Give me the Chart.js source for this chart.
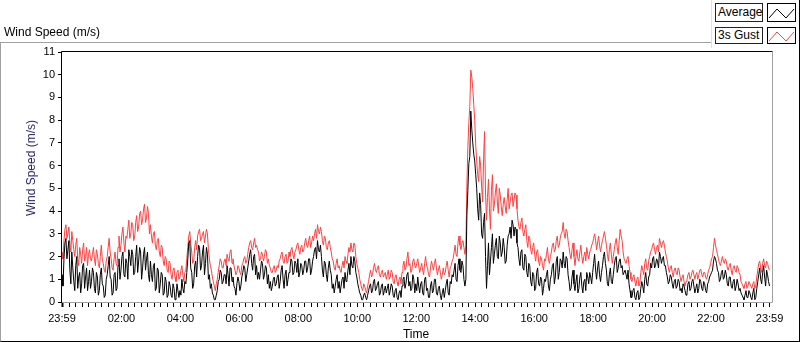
<!DOCTYPE html>
<html>
<head>
<meta charset="utf-8">
<script src="https://cdn.jsdelivr.net/npm/chart.js@4.4.1/dist/chart.umd.min.js"></script>
<style>
  body { margin: 0; background: #fff; font-family: "Liberation Sans", Arial, sans-serif; }
  #wrap { position: relative; width: 800px; height: 342px; overflow: hidden; }
  #frame { position: absolute; left: 0; top: 42px; width: 800px; height: 300px; box-sizing: border-box;
           border-top: 1px solid #a0a0a0; border-left: 1px solid #a0a0a0;
           border-right: 1px solid #000; border-bottom: 1px solid #000; }
  canvas { position: absolute; left: 0; top: 0; }
  .txt { position: absolute; font-size: 12px; white-space: nowrap; color: #000; }
  #legend { position: absolute; left: 711px; top: 0; width: 89px; height: 48px; box-sizing: border-box;
            background: #fff; border-left: 1px solid #e0e0e0; border-right: 1px solid #000; }
  .lbox { position: absolute; box-sizing: border-box; border: 1px solid #222; background: #fff;
          font-size: 12px; padding-left: 2px; }
  .ibox { position: absolute; box-sizing: border-box; border: 1px solid #000; background: #fff; }
</style>
</head>
<body>
<div id="wrap">
  <div id="frame"></div>
  <canvas id="wind" width="800" height="342"></canvas>
  <div class="txt" style="left:4px;top:32px;transform:translateY(-50%)">Wind Speed (m/s)</div>
  <div class="txt" style="left:31px;top:168px;transform:translate(-50%,-50%) rotate(-90deg);color:#26266e">Wind Speed (m/s)</div>
  <div class="txt" style="left:416px;top:334px;transform:translate(-50%,-50%)">Time</div>
  <div id="legend">
    <div class="lbox" style="left:3px;top:3px;width:48px;height:19px;line-height:17px">Average</div>
    <div class="ibox" style="left:55px;top:3px;width:29px;height:19px">
      <svg width="27" height="17"><polyline points="1,14 9,5 18,14 26,5" fill="none" stroke="#000" stroke-width="1"/></svg>
    </div>
    <div class="lbox" style="left:3px;top:27px;width:48px;height:17px;line-height:15px">3s Gust</div>
    <div class="ibox" style="left:55px;top:27px;width:29px;height:17px">
      <svg width="27" height="15"><polyline points="1,13 9,4 18,13 26,4" fill="none" stroke="#ff4040" stroke-width="1"/></svg>
    </div>
  </div>
</div>
<script>
// one sample every 2 minutes, starting 23:59 (minute 0) up to 23:59 next day (minute 1440)
var stepMin = 2;

// Average wind speed (m/s) - one row per hour
var average = [
  1.2,0.7, 1.9,2.6, 2.8,1.9, 2.3,2.7, 1.4,0.8, 2.2,1.5, 0.9,0.5, 1.6,2.0, 0.6,1.1, 1.3,0.4, 0.8,1.6, 1.7,0.6, 1.1,1.5, 0.5,0.9, 1.4,0.6,
  0.9,1.5, 1.3,0.6, 0.4,1.3, 1.1,0.3, 0.5,1.2, 1.5,0.8, 0.7,0.2, 0.3,1.0, 1.2,1.6, 2.0,1.1, 1.0,0.3, 0.4,1.2, 1.3,0.5, 0.6,1.6, 1.9,1.0,
  1.4,2.0, 2.2,1.2, 1.1,1.9, 1.7,1.0, 2.3,2.0, 1.6,2.3, 2.1,1.2, 1.3,2.0, 2.5,1.3, 1.8,2.4, 2.2,1.0, 1.5,2.1, 2.4,1.4, 1.9,2.2, 1.2,0.9,
  1.8,1.2, 0.9,1.6, 1.7,0.5, 0.6,1.5, 1.4,0.4, 0.8,1.3, 1.2,0.3, 0.4,1.1, 0.9,0.2, 0.3,0.9, 0.7,0.3, 0.2,0.8, 0.6,0.1, 0.2,0.8, 0.5,0.2,
  0.5,0.3, 1.0,0.6, 0.4,0.9, 0.8,1.3, 1.9,2.6, 2.7,1.5, 1.3,0.6, 0.8,1.6, 1.8,1.1, 2.0,2.5, 2.4,1.4, 1.6,2.2, 2.5,1.2, 1.7,2.4, 2.1,1.0,
  1.2,0.6, 0.8,0.4, 0.3,0.1, 0.1,0.3, 0.5,0.9, 1.0,1.4, 1.3,0.8, 0.9,1.2, 1.2,0.8, 1.6,1.2, 0.7,1.5, 1.5,0.9, 1.1,0.7, 0.6,0.3, 0.8,1.1,
  0.9,0.5, 0.7,1.1, 1.3,1.6, 1.5,0.9, 1.2,1.5, 1.8,2.1, 2.3,1.7, 1.4,2.0, 2.1,1.2, 1.6,1.0, 1.3,1.0, 1.4,1.8, 1.7,1.0, 1.2,1.6, 1.5,0.8,
  1.2,0.6, 0.9,0.5, 0.7,1.0, 1.1,0.7, 0.8,1.1, 1.2,0.6, 0.9,1.4, 1.6,1.0, 0.6,1.2, 1.4,0.7, 1.0,1.3, 1.5,1.9, 1.8,1.2, 1.3,1.8, 1.7,1.3,
  1.9,1.1, 1.3,1.7, 1.6,1.2, 1.4,1.8, 1.8,1.3, 1.5,1.9, 1.9,1.2, 1.4,1.8, 2.0,2.3, 2.4,1.9, 2.7,2.3, 2.2,2.5, 2.0,1.4, 1.1,1.8, 1.7,1.2,
  0.9,1.5, 1.8,1.4, 1.2,0.6, 0.8,0.4, 0.7,1.0, 1.2,0.6, 0.9,0.4, 0.7,1.0, 1.1,0.6, 1.3,0.9, 1.0,1.4, 1.7,1.2, 2.0,1.6, 1.5,2.0, 1.8,1.3,
  1.1,0.8, 0.6,0.4, 0.3,0.1, 0.1,0.3, 0.4,0.2, 0.1,0.3, 0.5,0.7, 0.8,0.4, 0.5,0.9, 1.0,0.5, 0.6,0.8, 0.9,0.3, 0.4,0.7, 0.8,0.3, 0.5,0.7,
  0.4,0.6, 0.8,0.3, 0.5,0.8, 0.7,0.3, 0.2,0.5, 0.6,0.2, 0.1,0.4, 0.5,0.2, 0.7,1.0, 1.1,0.6, 0.8,1.2, 1.3,0.7, 0.9,0.5, 0.6,1.2, 1.0,0.4,
  0.8,0.5, 1.1,0.7, 0.4,0.8, 0.9,0.4, 0.3,1.0, 1.1,0.5, 0.6,0.2, 0.2,0.7, 0.9,0.4, 0.5,1.0, 1.0,0.4, 0.3,0.6, 0.7,0.3, 0.1,0.4, 0.6,0.2,
  0.5,0.8, 1.0,0.4, 0.3,0.9, 0.8,1.2, 1.1,1.4, 1.7,1.0, 0.9,1.6, 1.9,1.4, 1.3,1.8, 1.6,1.0, 0.7,1.0, 3.8,4.9, 6.1,6.4, 8.4,7.6, 7.0,6.5,
  6.2,5.6, 5.0,4.1, 3.6,4.8, 4.3,3.0, 2.8,3.5, 3.9,2.0, 0.6,1.6, 2.6,1.2, 1.8,2.4, 3.0,1.7, 2.1,2.5, 2.8,2.0, 1.9,2.9, 2.6,2.0, 2.2,2.8,
  2.4,1.7, 1.8,2.5, 2.9,3.0, 3.3,2.8, 3.6,3.4, 2.9,3.3, 3.2,2.6, 2.4,1.9, 1.6,2.2, 2.3,1.5, 1.4,2.1, 2.0,1.3, 1.1,1.7, 1.6,0.9, 0.7,1.3,
  1.2,0.5, 0.6,1.3, 1.5,0.8, 0.7,1.1, 1.0,0.3, 0.6,1.0, 0.9,1.2, 1.4,0.7, 0.5,1.0, 1.2,1.6, 1.7,0.8, 1.1,1.8, 2.0,1.0, 1.3,1.9, 1.8,1.5,
  2.2,1.7, 1.5,2.0, 1.9,1.2, 0.9,0.5, 0.6,1.1, 1.4,0.8, 0.5,0.9, 1.2,0.4, 0.6,1.1, 1.3,0.7, 0.4,0.9, 1.0,0.5, 1.3,1.1, 0.8,1.3, 1.1,0.8,
  1.3,1.7, 2.1,1.4, 1.0,1.5, 1.8,1.2, 0.9,1.3, 1.6,2.0, 2.2,1.7, 1.4,0.8, 0.7,1.2, 1.5,0.9, 0.8,1.2, 1.6,1.9, 2.0,1.3, 1.5,1.8, 1.9,1.5,
  1.6,1.2, 1.3,1.4, 1.2,1.0, 1.4,0.8, 0.5,0.2, 0.2,0.5, 0.6,0.2, 0.1,0.4, 0.5,0.1, 0.2,0.6, 0.9,0.7, 0.4,1.0, 1.3,0.8, 0.7,1.1, 1.2,1.7,
  1.5,1.9, 2.0,1.5, 1.6,1.9, 1.8,1.5, 2.2,2.0, 1.7,1.9, 2.0,1.6, 1.6,1.3, 1.1,0.8, 0.9,1.2, 1.1,0.8, 0.6,0.9, 1.0,0.6, 0.7,1.0, 0.9,0.5,
  0.6,0.4, 0.8,0.7, 0.5,0.3, 0.4,0.8, 0.9,0.5, 0.6,0.9, 1.0,0.7, 0.4,0.6, 0.8,0.4, 0.6,1.0, 0.9,0.6, 0.5,0.9, 0.8,0.5, 0.4,0.8, 0.9,1.1,
  1.2,1.3, 1.4,1.8, 2.0,1.9, 1.7,1.4, 1.3,0.9, 1.0,1.3, 1.4,1.0, 1.1,1.4, 1.2,0.8, 0.7,1.1, 1.1,0.7, 0.6,0.9, 1.0,0.5, 0.7,1.0, 0.8,0.5,
  0.6,0.4, 0.3,0.2, 0.1,0.3, 0.5,0.2, 0.2,0.5, 0.4,0.2, 0.1,0.4, 0.6,0.1, 0.2,0.6, 0.9,1.2, 1.5,1.0, 0.8,1.3, 1.6,1.1, 0.7,1.4, 1.2,0.9,
  0.7
];

// 3 second gust (m/s)
var gust = [
  2.2,1.9, 2.7,3.2, 3.4,2.8, 3.0,3.3, 2.6,2.2, 3.1,2.7, 2.3,2.0, 2.5,2.8, 1.9,1.6, 2.4,2.1, 1.7,2.3, 2.6,1.8, 2.0,2.4, 1.6,2.1, 2.3,1.9,
  1.8,2.1, 2.4,1.9, 1.6,2.3, 2.1,1.7, 1.5,2.0, 2.5,1.9, 1.7,1.4, 1.3,1.8, 2.0,2.4, 2.8,2.2, 1.9,1.5, 1.4,1.9, 2.2,1.7, 1.6,2.4, 2.9,2.2,
  2.5,3.0, 3.3,2.6, 2.2,2.9, 2.8,3.2, 3.6,2.8, 3.0,3.5, 3.4,2.7, 2.9,3.5, 3.8,3.1, 3.3,3.9, 4.0,3.4, 3.6,4.1, 4.3,3.5, 3.7,4.2, 3.9,3.0,
  3.4,2.9, 2.6,3.0, 3.1,2.5, 2.3,2.7, 2.8,2.2, 2.0,2.5, 2.4,1.8, 1.6,2.0, 1.9,1.4, 1.3,1.8, 1.7,1.2, 1.0,1.4, 1.5,1.1, 0.9,1.3, 1.4,1.0,
  1.1,1.4, 1.6,1.2, 0.9,1.3, 1.4,1.9, 2.4,2.9, 3.1,2.6, 2.2,1.7, 1.8,2.4, 2.7,2.3, 2.9,3.1, 3.2,2.7, 2.8,3.0, 3.1,2.6, 2.9,3.2, 3.0,2.3,
  1.9,1.6, 1.4,1.1, 0.9,0.7, 0.5,0.8, 1.0,1.3, 1.6,1.9, 1.8,1.5, 1.5,1.8, 1.9,1.6, 2.1,1.9, 1.8,2.2, 2.3,1.7, 1.9,1.6, 1.4,1.2, 1.3,1.6,
  1.5,1.3, 1.2,1.6, 1.7,1.9, 2.0,1.7, 1.8,2.1, 2.4,2.6, 2.7,2.4, 2.3,2.6, 2.8,2.4, 2.5,2.3, 2.2,1.8, 1.9,2.2, 2.1,1.8, 2.0,2.3, 2.2,1.7,
  1.9,1.6, 1.5,1.3, 1.3,1.5, 1.6,1.3, 1.4,1.6, 1.5,1.8, 1.9,2.1, 2.2,1.8, 1.7,2.0, 2.1,1.7, 1.8,2.2, 2.0,2.3, 2.4,2.1, 1.9,2.2, 2.3,2.5,
  2.6,2.3, 2.1,2.4, 2.5,2.2, 2.3,2.6, 2.8,2.5, 2.4,2.7, 2.9,2.4, 2.6,2.9, 2.7,3.0, 3.2,2.8, 3.4,3.1, 3.0,3.3, 3.1,2.7, 2.5,2.9, 2.8,2.4,
  2.3,2.6, 2.7,2.4, 2.2,1.9, 1.8,1.5, 1.4,1.7, 1.9,1.5, 1.6,1.4, 1.3,1.6, 1.8,1.5, 2.0,1.8, 1.7,2.1, 2.4,2.2, 2.6,2.3, 2.2,2.6, 2.5,2.0,
  1.7,1.5, 1.3,1.0, 0.8,0.6, 0.5,0.8, 0.7,0.5, 0.4,0.7, 0.9,1.2, 1.4,1.1, 1.2,1.5, 1.7,1.4, 1.3,1.5, 1.6,1.2, 1.1,1.3, 1.4,1.1, 1.2,1.3,
  1.0,1.2, 1.4,1.0, 1.1,1.4, 1.3,0.9, 0.8,1.1, 1.2,0.9, 0.7,1.0, 1.1,0.8, 1.3,1.6, 1.8,1.4, 1.5,1.9, 2.2,1.6, 1.7,1.3, 1.4,1.8, 1.9,1.6,
  1.5,1.7, 1.9,1.6, 1.3,1.5, 1.7,1.4, 1.2,1.7, 2.0,1.6, 1.5,1.2, 1.1,1.5, 1.8,1.6, 1.4,1.7, 1.9,1.5, 1.2,1.4, 1.6,1.3, 1.0,1.2, 1.5,1.2,
  1.3,1.6, 1.8,1.4, 1.1,1.5, 1.6,1.8, 1.9,2.2, 2.5,2.1, 2.0,2.6, 2.9,2.5, 2.3,2.6, 2.7,2.4, 2.1,2.5, 5.1,6.8, 7.9,8.6, 10.2,9.9, 9.4,8.7,
  8.0,6.9, 6.2,5.6, 5.3,6.4, 6.0,5.1, 4.4,6.3, 7.5,4.8, 3.6,4.6, 5.4,4.1, 3.2,4.9, 5.6,4.0, 4.3,4.8, 5.2,4.4, 3.9,5.0, 4.7,4.2, 3.8,4.3,
  4.6,4.2, 3.9,4.5, 5.0,4.1, 4.4,4.7, 4.8,4.2, 4.5,4.8, 4.7,4.1, 3.6,3.3, 3.2,3.5, 3.7,3.1, 2.9,3.2, 3.4,2.7, 2.4,2.9, 2.8,2.3, 2.1,2.4,
  2.6,2.1, 1.8,2.2, 2.3,1.8, 1.6,2.0, 1.9,1.6, 1.4,1.9, 1.8,2.1, 2.4,1.9, 1.7,2.0, 2.2,2.5, 2.6,2.2, 2.3,2.7, 2.9,2.4, 2.5,2.8, 3.0,3.1,
  3.5,3.0, 2.8,3.2, 3.1,2.7, 2.4,2.1, 1.9,2.3, 2.6,2.0, 1.6,2.0, 2.3,1.9, 1.8,2.2, 2.5,2.0, 1.7,2.0, 2.2,1.8, 2.4,2.1, 1.9,2.2, 2.3,2.5,
  2.6,2.8, 3.0,2.7, 2.3,2.6, 2.9,2.5, 2.2,2.5, 2.7,2.9, 3.1,2.8, 2.5,2.1, 1.8,2.3, 2.6,2.1, 1.7,2.0, 2.3,2.6, 2.8,2.4, 2.1,2.7, 3.2,2.9,
  2.7,2.2, 1.9,1.8, 1.7,1.9, 2.0,1.6, 1.3,1.0, 0.9,1.1, 1.2,0.9, 0.7,1.0, 1.1,0.7, 0.8,1.3, 1.6,1.4, 1.2,1.7, 1.9,1.5, 1.4,1.8, 2.0,2.2,
  2.3,2.5, 2.6,2.3, 2.1,2.4, 2.5,2.2, 2.8,2.6, 2.4,2.6, 2.7,2.5, 2.2,2.0, 1.8,1.5, 1.3,1.5, 1.6,1.3, 1.1,1.4, 1.5,1.3, 1.2,1.5, 1.4,1.1,
  0.9,1.1, 1.2,0.9, 0.7,0.9, 1.0,1.2, 1.3,1.0, 1.1,1.3, 1.4,1.2, 1.0,1.2, 1.3,1.0, 1.2,1.4, 1.45,1.2, 1.1,1.3, 1.3,1.1, 1.0,1.2, 1.4,1.5,
  1.7,1.9, 2.0,2.4, 2.8,2.5, 2.3,2.1, 1.9,1.7, 1.6,1.8, 2.0,1.8, 1.7,1.9, 1.8,1.5, 1.4,1.6, 1.7,1.4, 1.2,1.5, 1.6,1.4, 1.3,1.6, 1.5,1.3,
  1.2,0.9, 0.8,0.7, 0.6,0.8, 0.9,0.6, 0.7,0.9, 0.8,0.7, 0.6,0.8, 0.9,0.6, 0.7,1.1, 1.4,1.7, 1.8,1.5, 1.3,1.7, 1.9,1.6, 1.5,1.8, 1.7,1.5,
  1.4
];

// x axis tick labels (minutes after 23:59)
var xMajorMinutes = [0, 121, 241, 361, 481, 601, 721, 841, 961, 1081, 1201, 1321, 1440];
var xTickLabels = ["23:59", "02:00", "04:00", "06:00", "08:00", "10:00", "12:00",
                   "14:00", "16:00", "18:00", "20:00", "22:00", "23:59"];

// minor ticks, 9 per 2 hours
var xTickValues = xMajorMinutes.slice();
for (var k = 1; k < 108; k++) {
  if (k % 9 !== 0) xTickValues.push(1 + k * 40 / 3);
}
xTickValues.sort(function (a, b) { return a - b; });

Chart.defaults.font.family = '"Liberation Sans", Arial, sans-serif';

// plot area border: dark top/left, grey bottom/right
const plotFrame = {
  id: "plotFrame",
  afterDatasetsDraw(chart) {
    const { ctx, chartArea: { top, bottom, left, right } } = chart;
    ctx.save();
    ctx.lineWidth = 1;
    ctx.strokeStyle = "#000";
    ctx.beginPath();
    ctx.moveTo(left - 0.5, bottom);
    ctx.lineTo(left - 0.5, top - 0.5);
    ctx.lineTo(right + 0.5, top - 0.5);
    ctx.stroke();
    ctx.strokeStyle = "#a0a0a0";
    ctx.beginPath();
    ctx.moveTo(right + 0.5, top);
    ctx.lineTo(right + 0.5, bottom + 0.5);
    ctx.lineTo(left, bottom + 0.5);
    ctx.stroke();
    ctx.restore();
  },
};

function toPoints(arr) {
  return arr.map(function (v, i) { return { x: i * stepMin, y: v }; });
}

const windChart = new Chart(document.getElementById("wind"), {
  type: "line",
  data: {
    datasets: [
      { label: "Average", data: toPoints(average), borderColor: "#000", borderWidth: 1, pointRadius: 0, tension: 0 },
      { label: "3s Gust", data: toPoints(gust), borderColor: "#ff4040", borderWidth: 1, pointRadius: 0, tension: 0 },
    ],
  },
  options: {
    responsive: false,
    animation: false,
    layout: { padding: { top: 52, left: 0, right: 28, bottom: 0 } },
    plugins: { legend: { display: false }, tooltip: { enabled: false } },
    scales: {
      x: {
        type: "linear",
        min: 0,
        max: 1445,
        afterBuildTicks: function (scale) {
          scale.ticks = xTickValues.map(function (v) { return { value: v }; });
        },
        afterFit: function (scale) { scale.height = 40; },
        ticks: {
          autoSkip: false,
          maxRotation: 0,
          padding: 5,
          color: "#000",
          font: { size: 11 },
          callback: function (value) {
            var j = xMajorMinutes.indexOf(value);
            return j >= 0 ? xTickLabels[j] : "";
          },
        },
        grid: {
          drawOnChartArea: false,
          tickLength: 5,
          tickColor: "#000",
          tickWidth: function (c) { return c.tick && c.tick.value === 0 ? 2 : 1; },
        },
        border: { display: false },
      },
      y: {
        min: 0,
        max: 11,
        afterFit: function (scale) { scale.width = 62; },
        ticks: { stepSize: 1, padding: 3, color: "#000", font: { size: 11 } },
        grid: { drawOnChartArea: false, tickLength: 4, tickColor: "#000" },
        border: { display: false },
      },
    },
  },
  plugins: [plotFrame],
});
</script>
</body>
</html>
